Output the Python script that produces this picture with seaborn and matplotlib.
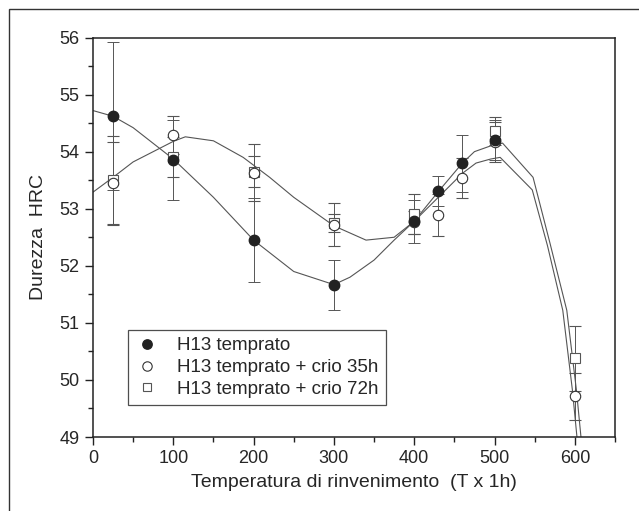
import numpy as np
import pandas as pd
import matplotlib
matplotlib.use("Agg")
import matplotlib.pyplot as plt
import seaborn as sns
from matplotlib.patches import Rectangle
from matplotlib.ticker import MultipleLocator

# measured points
t_temp = [25, 100, 200, 300, 400, 430, 460, 500]
hrc_temp = [54.63, 53.85, 52.45, 51.67, 52.78, 53.31, 53.80, 54.20]
err_temp = [1.30, 0.70, 0.74, 0.44, 0.38, 0.27, 0.50, 0.35]

t_c35 = [25, 100, 200, 300, 400, 430, 460, 500, 600]
hrc_c35 = [53.45, 54.29, 53.63, 52.72, 52.76, 52.89, 53.54, 54.17, 49.71]
err_c35 = [0.72, 0.33, 0.50, 0.38, 0.20, 0.37, 0.35, 0.35, 0.42]

t_c72 = [25, 100, 200, 300, 400, 500, 600]
hrc_c72 = [53.50, 53.90, 53.65, 52.75, 52.90, 54.36, 50.38]
err_c72 = [0.78, 0.35, 0.27, 0.15, 0.35, 0.25, 0.57]

# fitted curves
fit_x_temp = [0, 25, 50, 100, 150, 200, 250, 300, 320, 350, 375, 400, 430, 460, 475, 495, 510, 548, 569, 590, 602, 608, 615]
fit_y_temp = [54.72, 54.62, 54.42, 53.87, 53.20, 52.45, 51.90, 51.67, 51.80, 52.10, 52.45, 52.78, 53.30, 53.80, 54.00, 54.10, 54.15, 53.55, 52.40, 51.22, 49.82, 48.95, 48.0]
fit_x_c35 = [0, 25, 50, 100, 115, 150, 187, 220, 250, 300, 340, 375, 400, 430, 460, 477, 495, 507, 547, 566, 585, 597, 603, 610]
fit_y_c35 = [53.29, 53.55, 53.82, 54.18, 54.26, 54.19, 53.90, 53.55, 53.20, 52.70, 52.45, 52.50, 52.78, 53.20, 53.62, 53.80, 53.87, 53.90, 53.33, 52.35, 51.22, 49.82, 48.95, 48.0]

labels = ["H13 temprato", "H13 temprato + crio 35h", "H13 temprato + crio 72h"]

sns.set_style("ticks")
plt.rcParams['font.family'] = ['Liberation Sans', 'DejaVu Sans']

fig = plt.figure(figsize=(6.39, 5.11), dpi=100)
ax = fig.add_axes([0.1455, 0.1448, 0.8169, 0.7818])

curves = pd.concat([
    pd.DataFrame({"T": fit_x_temp, "HRC": fit_y_temp, "serie": "a"}),
    pd.DataFrame({"T": fit_x_c35, "HRC": fit_y_c35, "serie": "b"}),
])
sns.lineplot(data=curves, x="T", y="HRC", units="serie", estimator=None, sort=False,
             color="#555555", lw=0.8, ax=ax, legend=False)

ebar = dict(ecolor="#555555", elinewidth=0.7, capsize=4, capthick=0.7, ls="none")
ax.errorbar(t_c72, hrc_c72, yerr=err_c72, fmt="s", ms=6.5, mfc="white", mec="#555555",
            mew=0.8, label=labels[2], **ebar)
ax.errorbar(t_c35, hrc_c35, yerr=err_c35, fmt="o", ms=7.5, mfc="white", mec="#333333",
            mew=0.8, label=labels[1], **ebar)
ax.errorbar(t_temp, hrc_temp, yerr=err_temp, fmt="o", ms=7.5, mfc="#222222", mec="#222222",
            label=labels[0], **ebar)

ax.set_xlim(0, 650)
ax.set_ylim(49, 56)
ax.xaxis.set_major_locator(MultipleLocator(100))
ax.xaxis.set_minor_locator(MultipleLocator(50))
ax.yaxis.set_major_locator(MultipleLocator(1))
ax.yaxis.set_minor_locator(MultipleLocator(0.5))
ax.tick_params(which="major", direction="out", length=6, width=1, labelsize=13, color="#222222")
ax.tick_params(which="minor", direction="out", length=3.5, width=1, color="#222222")
for s in ax.spines.values():
    s.set_linewidth(1.1)
    s.set_color("#222222")

ax.set_xlabel("Temperatura di rinvenimento  (T x 1h)", fontsize=14, labelpad=5)
ax.set_ylabel("Durezza  HRC", fontsize=14, labelpad=9)

h, l = ax.get_legend_handles_labels()
order = [2, 1, 0]
h = [h[i][0] for i in order]
leg = ax.legend(h, [l[i] for i in order], loc="lower left", bbox_to_anchor=(0.056, 0.065),
                fontsize=13.5, frameon=True, fancybox=False, edgecolor="#222222",
                handlelength=1.2, handletextpad=1.0, borderpad=0.4, labelspacing=0.25,
                markerscale=0.9, borderaxespad=0.3)
leg.get_frame().set_linewidth(0.9)

# scanned page frame
fig.patches.append(Rectangle((9 / 639, -0.05), 1.1, 1 - 9 / 511 + 0.05, transform=fig.transFigure,
                             fill=False, lw=1.0, ec="#333333"))

fig.savefig("out.png", dpi=100)
